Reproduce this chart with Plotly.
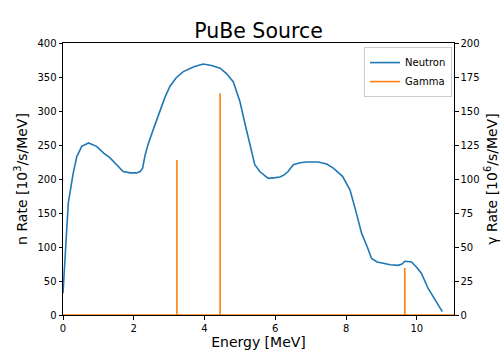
import plotly.graph_objects as go

# neutron spectrum (energy in MeV, rate in 10^3/s/MeV)
n_energy = [0.0, 0.03, 0.06, 0.15, 0.29, 0.39, 0.53, 0.72, 0.95, 1.15, 1.33, 1.52, 1.70, 1.90, 2.08, 2.18, 2.25, 2.32,
            2.41, 2.58, 2.74, 2.88, 3.02, 3.20, 3.40, 3.70, 3.96, 4.20, 4.44, 4.62, 4.81, 5.00, 5.14, 5.28, 5.42,
            5.56, 5.80, 6.00, 6.13, 6.25, 6.36, 6.51, 6.70, 6.88, 7.05, 7.21, 7.45, 7.64, 7.90, 8.11, 8.28, 8.44,
            8.60, 8.72, 8.88, 9.05, 9.25, 9.47, 9.58, 9.66, 9.76, 9.85, 10.00, 10.13, 10.32, 10.52, 10.72]
n_rate = [32, 60, 100, 165, 209, 233, 248, 253, 248, 238, 231, 220, 211, 209, 209, 211, 216, 235,
          252, 277, 301, 320, 336, 349, 358, 365, 369, 367, 363, 355, 343, 314, 282, 251, 221,
          211, 201, 202, 203, 206, 211, 221, 224, 225, 225, 225, 222, 216, 204, 184, 152, 120,
          100, 83, 78, 76, 74, 73, 75, 79, 79, 78, 70, 61, 39, 22, 5]

# gamma lines (energy in MeV, rate in 10^6/s/MeV)
g_energy = [3.22, 4.44, 9.66]
g_rate = [114, 163, 34.5]
x_max = 11.05

gx, gy = [0.0], [0.0]
for e, r in zip(g_energy, g_rate):
    gx += [e, e, e]
    gy += [0, r, 0]
gx.append(x_max)
gy.append(0)

fig = go.Figure()
fig.add_scatter(x=n_energy, y=n_rate, mode="lines", name="Neutron",
                line=dict(color="#1f77b4", width=1.6))
fig.add_scatter(x=gx, y=gy, mode="lines", name="Gamma", yaxis="y2",
                line=dict(color="#ff7f0e", width=1.6))

axis_common = dict(showline=True, linecolor="black", linewidth=1, ticks="outside", ticklen=3.5,
                   tickcolor="black", showgrid=False, zeroline=False, automargin=False,
                   tickfont=dict(size=10, color="black"))

fig.update_layout(
    width=504, height=360,
    margin=dict(l=63, r=50, t=43, b=45),
    paper_bgcolor="white", plot_bgcolor="white",
    font=dict(family="DejaVu Sans", color="black"),
    title=dict(text="PuBe Source", x=0.5, xref="paper", xanchor="center", y=0.895, yanchor="bottom",
               font=dict(size=20.5)),
    xaxis=dict(range=[0, x_max], tickvals=[0, 2, 4, 6, 8, 10], mirror=True,
               title=dict(text="Energy [MeV]", font=dict(size=14), standoff=4), **axis_common),
    yaxis=dict(range=[0, 400], dtick=50,
               title=dict(text="n Rate [10<sup>3</sup>/s/MeV]", font=dict(size=14), standoff=6),
               **axis_common),
    yaxis2=dict(range=[0, 200], dtick=25, overlaying="y", side="right",
                title=dict(text="γ Rate [10<sup>6</sup>/s/MeV]", font=dict(size=14), standoff=8),
                **axis_common),
    legend=dict(x=0.995, y=0.985, xanchor="right", yanchor="top", bgcolor="rgba(255,255,255,0.8)",
                bordercolor="#cccccc", borderwidth=1, font=dict(size=10), tracegroupgap=0),
)

fig.write_html("out.html", config={"displayModeBar": False},
               post_script="document.body.style.margin='0';")
